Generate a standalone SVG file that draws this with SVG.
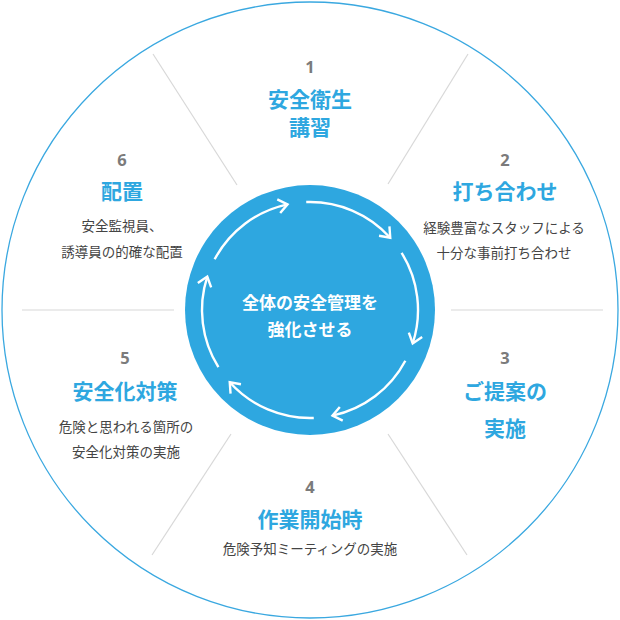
<svg xmlns="http://www.w3.org/2000/svg" width="620" height="620" viewBox="0 0 620 620">
<defs>
<style>
.num{font-family:"Open Sans","Noto Sans CJK JP",sans-serif;font-weight:700;font-size:16.5px;fill:#7b7b7b;text-anchor:middle}
.ttl{font-family:"Noto Sans CJK JP",sans-serif;font-weight:700;font-size:21px;fill:#2ea7e0;text-anchor:middle}
.sub{font-family:"Noto Sans CJK JP",sans-serif;font-size:13.5px;fill:#444;text-anchor:middle}
.ctr{font-family:"Noto Sans CJK JP",sans-serif;font-weight:700;font-size:17px;fill:#fff;text-anchor:middle}
.div{stroke:#d8d8d8;stroke-width:1.2}
.arc{fill:none;stroke:#fff;stroke-width:2.4;marker-end:url(#chev)}
</style>
<marker id="chev" markerUnits="userSpaceOnUse" markerWidth="24" markerHeight="24" viewBox="-12 -12 24 24" refX="0" refY="0" orient="auto">
<path d="M-9,-7 L0,0 L-9,7" fill="none" stroke="#fff" stroke-width="2.4" stroke-linejoin="miter"/>
</marker>
</defs>
<rect width="620" height="620" fill="#fff"/>
<circle cx="310" cy="310" r="308" fill="none" stroke="#3aa8e0" stroke-width="1.3"/>
<g id="dividers">
<line class="div" x1="153" y1="54" x2="237" y2="185"/>
<line class="div" x1="468" y1="54" x2="388" y2="184"/>
<line class="div" x1="22" y1="310" x2="174" y2="310"/>
<line class="div" x1="451" y1="310" x2="603" y2="310"/>
<line class="div" x1="231" y1="434" x2="152" y2="555"/>
<line class="div" x1="388" y1="434" x2="467" y2="555"/>
</g>
<g id="center">
<circle cx="310" cy="310" r="125" fill="#2ea7e0"/>
<text class="ctr" x="310" y="309">全体の安全管理を</text>
<text class="ctr" x="310" y="336">強化させる</text>
</g>
<g id="connectors">
<path class="arc" d="M405.35,360.70 A108,108 0 0 1 332.46,415.64"/>
<path class="arc" d="M313.77,417.93 A108,108 0 0 1 229.74,382.27"/>
<path class="arc" d="M218.41,367.23 A108,108 0 0 1 207.28,276.63"/>
<path class="arc" d="M214.65,259.30 A108,108 0 0 1 287.54,204.36"/>
<path class="arc" d="M306.23,202.07 A108,108 0 0 1 390.26,237.73"/>
<path class="arc" d="M401.59,252.77 A108,108 0 0 1 412.72,343.37"/>
</g>
<g id="step1">
<text class="num" x="310" y="73">1</text>
<text class="ttl" x="310" y="107">安全衛生</text>
<text class="ttl" x="310" y="135">講習</text>
</g>
<g id="step2">
<text class="num" x="505" y="166">2</text>
<text class="ttl" x="505" y="199">打ち合わせ</text>
<text class="sub" x="504" y="233">経験豊富なスタッフによる</text>
<text class="sub" x="504" y="258">十分な事前打ち合わせ</text>
</g>
<g id="step3">
<text class="num" x="505" y="364">3</text>
<text class="ttl" x="505" y="399">ご提案の</text>
<text class="ttl" x="505" y="436">実施</text>
</g>
<g id="step4">
<text class="num" x="310" y="493">4</text>
<text class="ttl" x="310" y="527">作業開始時</text>
<text class="sub" x="310" y="554">危険予知ミーティングの実施</text>
</g>
<g id="step5">
<text class="num" x="125" y="364">5</text>
<text class="ttl" x="125" y="399">安全化対策</text>
<text class="sub" x="126" y="432">危険と思われる箇所の</text>
<text class="sub" x="126" y="457">安全化対策の実施</text>
</g>
<g id="step6">
<text class="num" x="122" y="166">6</text>
<text class="ttl" x="122" y="199">配置</text>
<text class="sub" x="122" y="231">安全監視員、</text>
<text class="sub" x="122" y="257">誘導員の的確な配置</text>
</g>
</svg>
